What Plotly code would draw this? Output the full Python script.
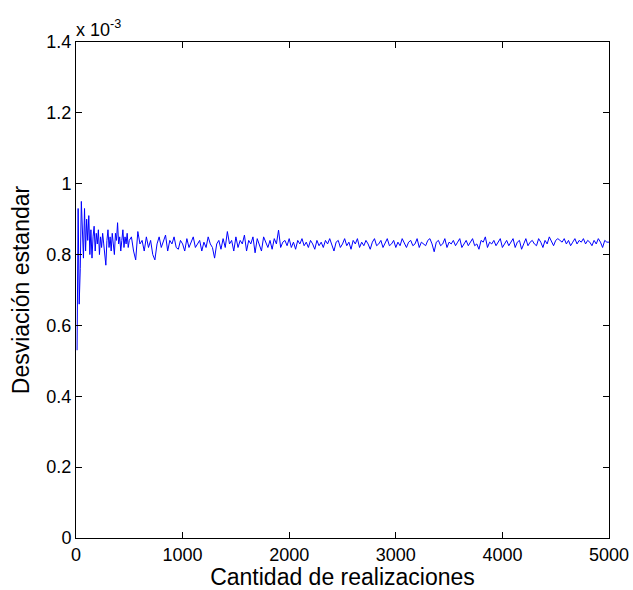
import plotly.graph_objects as go

# Values in units of 1e-3
x_early = list(range(10, 501, 10))
y_early = [0.53, 0.93, 0.66, 0.76, 0.95, 0.86, 0.79, 0.93, 0.81, 0.90,
           0.84, 0.91, 0.80, 0.87, 0.79, 0.85, 0.88, 0.81, 0.86, 0.83,
           0.87, 0.80, 0.85, 0.82, 0.86, 0.83, 0.80, 0.77, 0.84, 0.87,
           0.82, 0.85, 0.81, 0.86, 0.83, 0.80, 0.86, 0.84, 0.89, 0.83,
           0.85, 0.81, 0.84, 0.87, 0.82, 0.85, 0.83, 0.86, 0.82, 0.84]

x_late = list(range(520, 5001, 20))
y_late = [0.85, 0.81, 0.785, 0.865, 0.83, 0.84, 0.81, 0.85, 0.82, 0.84,
          0.80, 0.785, 0.83, 0.85, 0.82, 0.84, 0.855, 0.81, 0.84, 0.83,
          0.85, 0.82, 0.815, 0.84, 0.83, 0.81, 0.845, 0.82, 0.835, 0.85,
          0.82, 0.83, 0.84, 0.81, 0.835, 0.82, 0.85, 0.83, 0.82, 0.79,
          0.83, 0.84, 0.815, 0.845, 0.82, 0.865, 0.83, 0.84, 0.81, 0.85,
          0.82, 0.84, 0.83, 0.855, 0.81, 0.84, 0.83, 0.85, 0.805, 0.845,
          0.83, 0.81, 0.85, 0.835, 0.82, 0.84, 0.815, 0.845, 0.83, 0.869,
          0.82, 0.835, 0.84, 0.825, 0.845, 0.82, 0.835, 0.815, 0.84, 0.83,
          0.845, 0.825, 0.835, 0.82, 0.84, 0.83, 0.815, 0.84, 0.825, 0.835,
          0.82, 0.84, 0.83, 0.845, 0.825, 0.81, 0.835, 0.84, 0.82, 0.83,
          0.845, 0.825, 0.835, 0.815, 0.84, 0.83, 0.845, 0.82, 0.835, 0.825,
          0.84, 0.83, 0.815, 0.835, 0.845, 0.825, 0.83, 0.84, 0.82, 0.835,
          0.845, 0.825, 0.83, 0.84, 0.82, 0.835, 0.825, 0.845, 0.83, 0.82,
          0.835, 0.84, 0.825, 0.83, 0.845, 0.82, 0.835, 0.83, 0.825, 0.84,
          0.845, 0.83, 0.808, 0.835, 0.84, 0.825, 0.83, 0.845, 0.82, 0.835,
          0.83, 0.84, 0.825, 0.835, 0.845, 0.82, 0.83, 0.84, 0.825, 0.835,
          0.845, 0.825, 0.83, 0.815, 0.84, 0.835, 0.85, 0.82, 0.835, 0.83,
          0.84, 0.825, 0.835, 0.845, 0.82, 0.83, 0.84, 0.825, 0.835, 0.845,
          0.82, 0.835, 0.84, 0.815, 0.83, 0.845, 0.825, 0.835, 0.84, 0.83,
          0.825, 0.845, 0.835, 0.82, 0.84, 0.83, 0.85, 0.835, 0.825, 0.84,
          0.845, 0.84, 0.835, 0.845, 0.83, 0.84, 0.825, 0.835, 0.845, 0.83,
          0.84, 0.835, 0.845, 0.83, 0.84, 0.835, 0.825, 0.84, 0.83, 0.845,
          0.835, 0.82, 0.84, 0.835, 0.835]

x_ticks = [0, 1000, 2000, 3000, 4000, 5000]
y_ticks = [0, 0.2, 0.4, 0.6, 0.8, 1.0, 1.2, 1.4]
y_tick_labels = ["0", "0.2", "0.4", "0.6", "0.8", "1", "1.2", "1.4"]

x_all = x_early + x_late
y_all = y_early + y_late

fig = go.Figure()
fig.add_trace(go.Scatter(x=x_all, y=y_all, mode="lines",
                         line=dict(color="#0000FF", width=1)))

font_family = "Liberation Sans, Arial, sans-serif"
axis_common = dict(showline=True, linecolor="black", linewidth=1, mirror="ticks",
                   ticks="inside", ticklen=6, tickcolor="black", showgrid=False,
                   zeroline=False, automargin=False,
                   tickfont=dict(family=font_family, size=18, color="black"))

fig.update_xaxes(range=[0, 5000], tickvals=x_ticks,
                 title=dict(text="Cantidad de realizaciones",
                            font=dict(family=font_family, size=23, color="black"),
                            standoff=2),
                 **axis_common)
fig.update_yaxes(range=[0, 1.4], tickvals=y_ticks, ticktext=y_tick_labels,
                 title=dict(text="Desviación estandar",
                            font=dict(family=font_family, size=23, color="black"),
                            standoff=10),
                 **axis_common)

fig.add_annotation(xref="paper", yref="paper", x=0, y=1, xanchor="left", yanchor="bottom",
                   text="x 10<sup>-3</sup>", showarrow=False, xshift=-2, yshift=0,
                   font=dict(family=font_family, size=18, color="black"))

fig.update_layout(width=633, height=590, margin=dict(l=76, r=24, t=42, b=52),
                  plot_bgcolor="white", paper_bgcolor="white", showlegend=False)

fig.write_html("out.html")
